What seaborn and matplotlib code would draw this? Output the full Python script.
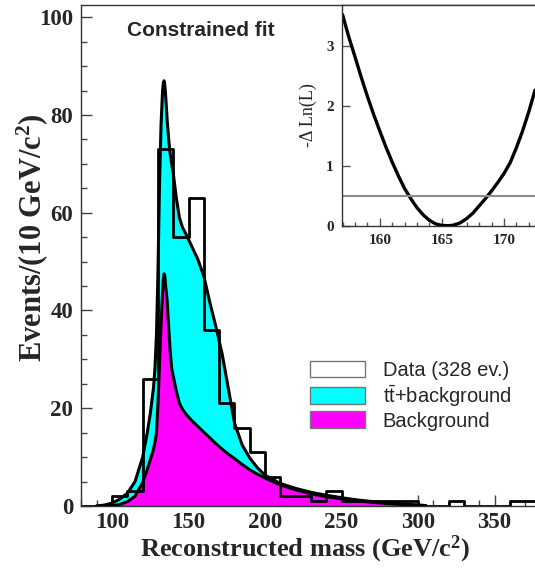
import numpy as np
import pandas as pd
import seaborn as sns
import matplotlib
matplotlib.use('Agg')
import matplotlib.pyplot as plt
from matplotlib.patches import Patch
from matplotlib.ticker import MultipleLocator

# data histogram, 10 GeV/c^2 bins (lower edges)
bin_lo = list(range(80, 380, 10))
counts = [0, 0, 2, 3, 26, 73, 55, 63, 36, 21,
          16, 11, 6, 2, 2, 1, 3, 1, 1, 1,
          1, 1, 0, 0, 1, 0, 0, 0, 1, 1]

# fitted shapes
fit_mass = [90, 95, 100, 105, 110, 115, 120, 123, 125, 127, 128, 129, 130, 131, 132,
            133, 133.5, 134, 134.5, 135, 136, 137, 138, 139, 140, 142, 144, 146, 148,
            150, 153, 156, 160, 164, 168, 172, 176, 180, 185, 190, 195, 200, 210, 220,
            230, 240, 250, 260, 270, 280, 290, 300, 305]
fit_total = [0.0, 0.2, 0.6, 1.4, 2.6, 5.0, 10.0, 15.0, 19.0, 24.0, 28.0, 35.0, 48.0, 66.0, 78.0,
             85.0, 86.5, 87.0, 86.0, 84.0, 79.0, 75.0, 72.0, 70.0, 68.0, 63.0, 59.0, 57.0, 55.8,
             54.5, 52.5, 50.5, 47.0, 41.5, 36.5, 31.0, 24.0, 17.0, 12.5, 9.8, 7.8, 6.3, 4.6, 3.6,
             2.8, 2.2, 1.7, 1.25, 0.9, 0.6, 0.4, 0.2, 0.1]
fit_bkg = [0.0, 0.0, 0.05, 0.3, 0.9, 2.0, 4.8, 7.5, 9.5, 11.5, 13.0, 15.0, 21.0, 29.0, 37.0,
           44.0, 46.5, 47.5, 47.0, 45.0, 42.0, 36.5, 31.5, 28.0, 26.5, 23.5, 21.0, 19.8, 18.9,
           18.2, 17.2, 16.3, 15.1, 13.9, 12.7, 11.6, 10.6, 9.7, 8.5, 7.4, 6.5, 5.7, 4.3, 3.3,
           2.5, 1.9, 1.45, 1.05, 0.75, 0.5, 0.3, 0.15, 0.08]

# likelihood scan (inset)
scan_mass = [157.0, 157.5, 158, 158.5, 159, 159.5, 160, 160.5, 161, 161.5, 162, 162.5,
             163, 163.5, 164, 164.5, 165, 165.5, 166, 166.5, 167, 167.5, 168, 168.5,
             169, 169.5, 170, 170.5, 171, 171.5, 172, 172.5]
scan_dlnl = [3.52, 3.15, 2.82, 2.48, 2.16, 1.86, 1.58, 1.31, 1.06, 0.83, 0.62, 0.45,
             0.30, 0.18, 0.09, 0.03, 0.005, 0.0, 0.01, 0.05, 0.12, 0.21, 0.33, 0.45,
             0.58, 0.72, 0.87, 1.05, 1.30, 1.58, 1.90, 2.26]
scan_ref = 0.5

sns.set_style("ticks")
plt.rcParams['font.family'] = ['Liberation Serif', 'DejaVu Serif']
plt.rcParams['font.weight'] = 'bold'
plt.rcParams['mathtext.default'] = 'regular'

df = pd.DataFrame({"mass": np.array(bin_lo) + 5, "n": counts})
edges = bin_lo + [bin_lo[-1] + 10]

fig = plt.figure(figsize=(5.35, 5.69), dpi=100)
ax = fig.add_axes([0.1523, 0.1107, 0.8477, 0.8805])

ax.fill_between(fit_mass, fit_total, color='#00ffff', lw=0, zorder=1)
ax.fill_between(fit_mass, fit_bkg, color='#ff00ff', lw=0, zorder=1.1)
sns.histplot(data=df, x="mass", weights="n", bins=edges, element="step", fill=False,
             color="black", linewidth=2, ax=ax, zorder=2)
sns.lineplot(x=fit_mass, y=fit_total, color='black', lw=2.2, estimator=None, ax=ax, zorder=3)
sns.lineplot(x=fit_mass, y=fit_bkg, color='black', lw=2.2, estimator=None, ax=ax, zorder=3)

ax.set_xlim(80, 376.4)
ax.set_ylim(0, 102.5)
ax.xaxis.set_major_locator(MultipleLocator(50))
ax.xaxis.set_minor_locator(MultipleLocator(10))
ax.yaxis.set_major_locator(MultipleLocator(20))
ax.yaxis.set_minor_locator(MultipleLocator(5))
ax.tick_params(which='both', direction='in', color='#444444', width=1, labelsize=16.5, pad=6,
               top=False, right=False, zorder=5)
ax.tick_params(axis='x', pad=4.5)
ax.tick_params(which='major', length=8)
ax.tick_params(which='minor', length=4)
for s in ax.spines.values():
    s.set_color('#333333')
    s.set_linewidth(1)
ax.spines['right'].set_visible(False)

ax.set_xlabel("Reconstructed mass (GeV/c$^2$)", fontsize=19, fontweight='bold')
ax.set_ylabel("Events/(10 GeV/c$^2$)", fontsize=22, fontweight='bold')
ax.xaxis.set_label_coords(0.493, -0.056)
ax.yaxis.set_label_coords(-0.07, 0.535)

ax.text(0.2635, 0.95, "Constrained fit", transform=ax.transAxes, ha='center', va='center',
        fontsize=15, fontweight='bold', family=['Liberation Sans', 'DejaVu Sans'])

handles = [Patch(facecolor='white', edgecolor='#777777', lw=1),
           Patch(facecolor='#00ffff', edgecolor='#777777', lw=1),
           Patch(facecolor='#ff00ff', edgecolor='#777777', lw=1)]
labels = ["Data (328 ev.)", r"t$\bar{t}$+background", "Background"]
leg = ax.legend(handles, labels, loc='upper left', bbox_to_anchor=(0.504, 0.29),
                frameon=False, borderpad=0, borderaxespad=0, handlelength=2.75,
                handleheight=0.88, handletextpad=0.85, labelspacing=0.14,
                prop={'family': ['Liberation Sans', 'DejaVu Sans'], 'size': 14.5, 'weight': 'normal'})

# inset: likelihood scan
axin = fig.add_axes([0.6393, 0.6033, 0.3607, 0.3879])
axin.set_facecolor('white')
sns.lineplot(x=scan_mass, y=scan_dlnl, color='black', lw=2.4, estimator=None, ax=axin)
axin.axhline(scan_ref, color='#8c8c8c', lw=1.5)
axin.set_xlim(156.96, 172.5)
axin.set_ylim(0, 3.68)
axin.xaxis.set_major_locator(MultipleLocator(5))
axin.xaxis.set_minor_locator(MultipleLocator(1))
axin.yaxis.set_major_locator(MultipleLocator(1))
axin.tick_params(which='both', direction='in', color='#555555', width=1, labelsize=11, pad=6,
                 top=False, right=False)
axin.tick_params(which='major', length=6)
axin.tick_params(which='minor', length=3)
for s in axin.spines.values():
    s.set_color('#333333')
    s.set_linewidth(1)
axin.spines['right'].set_visible(False)
axin.set_xlabel("")
axin.set_ylabel("-\u0394 Ln(L)", fontsize=13, fontweight='normal')
axin.yaxis.set_label_coords(-0.13, 0.5)

fig.savefig("out.png", dpi=100)
